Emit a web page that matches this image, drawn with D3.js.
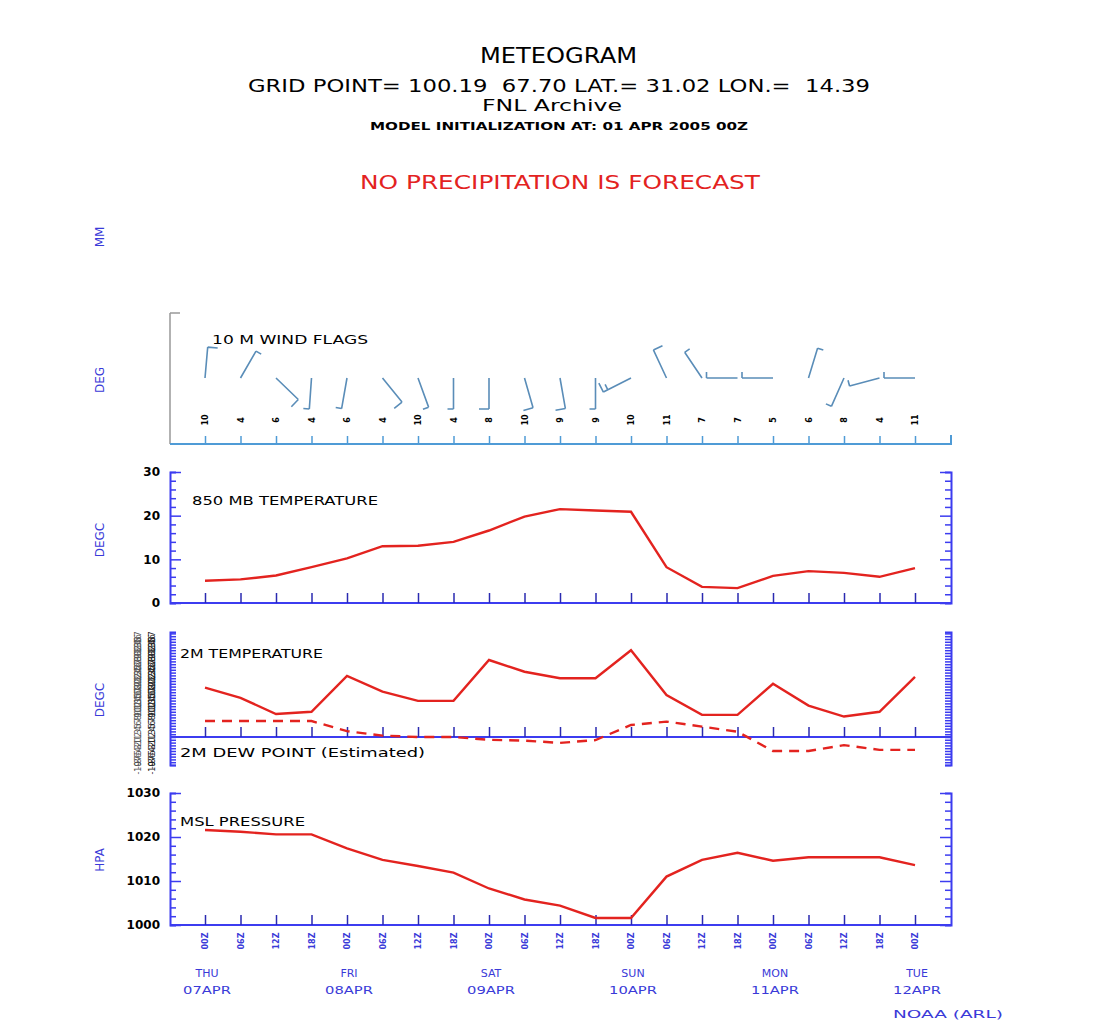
<!DOCTYPE html>
<html><head><meta charset="utf-8">
<script src="https://cdn.jsdelivr.net/npm/d3@7"></script>
<style>body{margin:0;background:#fff}svg{display:block}text{font-family:"DejaVu Sans",sans-serif;white-space:pre}</style>
</head><body><div id="c"></div>
<script>
// ---------- data ----------
const hourLabels = ["00Z","06Z","12Z","18Z","00Z","06Z","12Z","18Z","00Z","06Z","12Z","18Z","00Z","06Z","12Z","18Z","00Z","06Z","12Z","18Z","00Z"];
const dayLabels = [{i:0,d:"THU",m:"07APR"},{i:4,d:"FRI",m:"08APR"},{i:8,d:"SAT",m:"09APR"},{i:12,d:"SUN",m:"10APR"},{i:16,d:"MON",m:"11APR"},{i:20,d:"TUE",m:"12APR"}];
const temp850 = [5.1,5.4,6.3,8.2,10.2,13.0,13.1,14.0,16.6,19.8,21.5,21.2,20.9,8.2,3.7,3.4,6.2,7.3,6.9,6.0,8.0];
const temp2m  = [17.6,14.0,8.2,9.0,21.8,16.2,12.9,12.9,27.5,23.3,21.0,21.0,31.0,15.0,7.9,7.9,19.0,11.2,7.3,9.0,21.5];
const dew2m   = [5.7,5.7,5.7,5.7,2.1,0.5,0.0,0.0,-1.0,-1.3,-2.1,-1.1,4.3,5.5,3.7,1.9,-5.0,-5.0,-2.9,-4.6,-4.6];
const mslp    = [1021.6,1021.2,1020.6,1020.6,1017.4,1014.8,1013.4,1011.9,1008.3,1005.8,1004.4,1001.6,1001.6,1011.0,1014.8,1016.4,1014.6,1015.4,1015.4,1015.4,1013.6];
const windDir = [5,30,134,184,190,141,160,180,180,164,170,180,243,335,326,270,270,17,204,255,270];
const windSpd = [10,5,10,5,5,10,5,5,10,10,10,5,15,10,5,5,5,5,5,5,5];
const windLbl = ["10","4","6","4","6","4","10","4","8","10","9","9","10","11","7","7","5","6","8","4","11"];
const ticks850 = [0,10,20,30];
const ticksMslp = [1000,1010,1020,1030];

// ---------- setup ----------
const W=1118,H=1027;
const svg=d3.select("#c").append("svg").attr("width",W).attr("height",H);
const BLUE="#3c3cf0", RED="#e3231f", LBLUE="#4f9bd6", LAB="#3a3ad8";
const idx=d3.range(hourLabels.length);
const x=d3.scaleLinear().domain([0,20]).range([205,915]);
const X0=170,X1=951;

function txt(s,xx,yy,o={}){
  const t=svg.append("text").attr("x",xx).attr("y",yy).text(s)
   .attr("font-size",o.size||12).attr("fill",o.fill||"#000")
   .attr("text-anchor",o.anchor||"start");
  if(o.len){t.attr("textLength",o.len).attr("lengthAdjust","spacingAndGlyphs");}
  if(o.weight)t.attr("font-weight",o.weight);
  if(o.family)t.attr("font-family",o.family);
  if(o.rot!==undefined)t.attr("transform",`rotate(${o.rot},${xx},${yy})`);
  return t;
}
// ---------- titles ----------
txt("METEOGRAM",480,63,{size:22,len:157});
txt("GRID POINT= 100.19  67.70 LAT.= 31.02 LON.=  14.39",248,92,{size:17,len:622});
txt("FNL Archive",482,111,{size:16,len:140});
txt("MODEL INITIALIZATION AT: 01 APR 2005 00Z",370,130,{size:10,len:378,weight:"bold"});
txt("NO PRECIPITATION IS FORECAST",360,189,{size:19,len:400,fill:RED});
txt("NOAA (ARL)",893,1018,{size:11,len:110,fill:LAB});

// y labels
[["MM",237],["DEG",380],["DEGC",540],["DEGC",700],["HPA",860]].forEach(([s,yy])=>{
  txt(s,104,yy,{size:12,fill:LAB,anchor:"middle",rot:-90});
});

function styleAxis(g,col){g.selectAll("path").attr("stroke",col).attr("stroke-width",2);g.selectAll("line").attr("stroke",col).attr("stroke-width",1.5);}

// ---------- wind panel ----------
const yW=444;
svg.append("line").attr("x1",X0).attr("x2",X0).attr("y1",313).attr("y2",yW).attr("stroke","#999").attr("stroke-width",1.5);
svg.append("line").attr("x1",X0).attr("x2",X0+10).attr("y1",313).attr("y2",313).attr("stroke","#999").attr("stroke-width",1.5);
const gw=svg.append("g").attr("transform",`translate(0,${yW})`)
  .call(d3.axisBottom(x).tickValues(idx).tickSize(-8).tickFormat(""));
gw.select("path").attr("d",`M${X0},0H${X1}V-9`);
styleAxis(gw,LBLUE);
txt("10 M WIND FLAGS",212,344,{size:12,len:156});
windLbl.forEach((s,i)=>txt(s,x(i)+3,420,{size:8,anchor:"middle",rot:-90,weight:"bold"}));
const rad=Math.PI/180, L=31, yS=378;
windDir.forEach((d,i)=>{
  const bx=x(i), by=yS;
  const ux=Math.sin(d*rad), uy=-Math.cos(d*rad);
  const tx=bx+L*ux, ty=by+L*uy;
  let p=`M${bx},${by}L${tx},${ty}`;
  const fx=Math.sin((d+90)*rad), fy=-Math.cos((d+90)*rad);
  let s=windSpd[i], k=0;
  while(s>=10){const sx=tx-k*5*ux, sy=ty-k*5*uy;p+=`M${sx},${sy}l${fx*10},${fy*10}`;s-=10;k++;}
  if(s>=5){const sx=tx-k*5*ux, sy=ty-k*5*uy;p+=`M${sx},${sy}l${fx*6},${fy*6}`;}
  svg.append("path").attr("d",p).attr("fill","none").attr("stroke","#5a8db8").attr("stroke-width",1.6);
});

// ---------- generic panel ----------
function panel(top,bot,dom,step,majors,labelFmt,opts={}){
  const y=d3.scaleLinear().domain(dom).range([bot,top]);
  const minors=d3.range(dom[0],dom[1]+0.001,step);
  const gl=svg.append("g").attr("transform",`translate(${X0},0)`)
    .call(d3.axisLeft(y).tickValues(minors).tickSize(-6).tickFormat(""));
  styleAxis(gl,BLUE);
  gl.selectAll("line").filter(v=>majors.includes(v)).attr("x2",11);
  const gr=svg.append("g").attr("transform",`translate(${X1},0)`)
    .call(d3.axisRight(y).tickValues(minors).tickSize(-6).tickFormat(""));
  styleAxis(gr,BLUE);
  gr.selectAll("line").filter(v=>majors.includes(v)).attr("x2",-11);
  if(opts.labels!==false){
    const gt=svg.append("g").attr("transform",`translate(${X0},0)`)
      .call(d3.axisLeft(y).tickValues(majors).tickSize(0).tickPadding(10).tickFormat(labelFmt));
    gt.select("path").remove();
    gt.selectAll("text").attr("font-size",12).attr("font-weight","bold").attr("fill","#000").attr("font-family","DejaVu Sans Mono");
  }
  const yb=opts.baseY!==undefined?y(opts.baseY):bot;
  const gb=svg.append("g").attr("transform",`translate(0,${yb})`)
    .call(d3.axisBottom(x).tickValues(idx).tickSize(-10).tickFormat(""));
  gb.select("path").attr("d",`M${X0},0H${X1}`);
  styleAxis(gb,BLUE);
  gb.selectAll("line").attr("stroke","#2a2ab0");
  return y;
}
const line=(y)=>d3.line().x((d,i)=>x(i)).y(d=>y(d));

// 850 mb
const y850=panel(472,603,[0,30],2,ticks850,d3.format("d"));
svg.append("path").datum(temp850).attr("d",line(y850)).attr("fill","none").attr("stroke",RED).attr("stroke-width",2.4);
txt("850 MB TEMPERATURE",192,505,{size:12,len:186});

// 2m temp
const y2=panel(632,765,[-10,37.5],1,[],null,{labels:false,baseY:0});
const dense=d3.range(-10,38,1);
dense.forEach(v=>txt(String(v),155,y2(v)+3,{size:8,anchor:"middle",rot:-90,fill:"#222"}));
dense.forEach(v=>txt(String(v),141,y2(v)+3,{size:8,anchor:"middle",rot:-90,fill:"#555"}));
svg.append("path").datum(temp2m).attr("d",line(y2)).attr("fill","none").attr("stroke",RED).attr("stroke-width",2.4);
svg.append("path").datum(dew2m).attr("d",line(y2)).attr("fill","none").attr("stroke",RED).attr("stroke-width",2.4).attr("stroke-dasharray","10,7");
txt("2M TEMPERATURE",180,658,{size:12,len:143});
txt("2M DEW POINT (Estimated)",180,757,{size:12,len:245});

// pressure
const yp=panel(793,925,[1000,1030],2,ticksMslp,d3.format("d"));
svg.append("path").datum(mslp).attr("d",line(yp)).attr("fill","none").attr("stroke",RED).attr("stroke-width",2.4);
txt("MSL PRESSURE",180,826,{size:12,len:125});

// bottom labels
hourLabels.forEach((s,i)=>txt(s,x(i)+3,941,{size:8,anchor:"middle",rot:-90,fill:LAB,weight:"bold"}));
dayLabels.forEach(o=>{
  txt(o.d,x(o.i)+2,977,{size:11,anchor:"middle",fill:LAB});
  txt(o.m,x(o.i)+2,994,{size:11,anchor:"middle",fill:LAB,len:48});
});
</script></body></html>
